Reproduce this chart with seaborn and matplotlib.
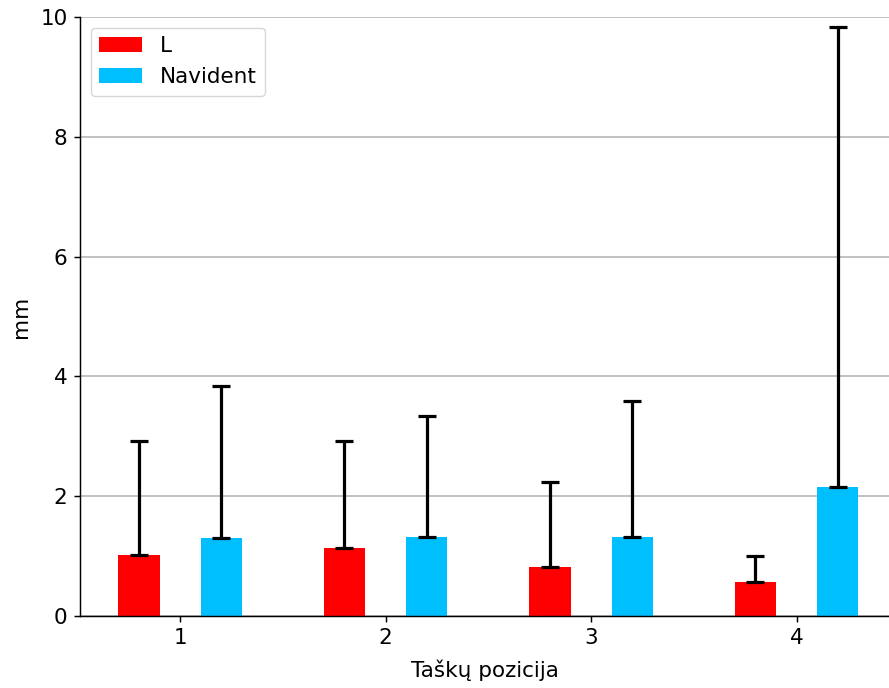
import numpy as np
import pandas as pd
import matplotlib
matplotlib.use("Agg")
import matplotlib.pyplot as plt
import seaborn as sns

positions = ["1", "2", "3", "4"]
groups = ["L", "Navident"]
l_means = [1.02, 1.14, 0.81, 0.56]
l_upper = [2.92, 2.92, 2.23, 1.00]
nav_means = [1.31, 1.32, 1.32, 2.15]
nav_upper = [3.84, 3.34, 3.59, 9.83]
colors = ["#ff0000", "#00bfff"]

df = pd.DataFrame({
    "pos": positions * 2,
    "grupe": ["L"] * 4 + ["Navident"] * 4,
    "mm": l_means + nav_means,
})

sns.set_style("white", {"text.color": "black", "axes.labelcolor": "black",
                        "xtick.color": "black", "ytick.color": "black"})
plt.rcParams["font.family"] = ["DejaVu Sans"]
plt.rcParams["font.size"] = 15.5

fig = plt.figure(figsize=(8.89, 6.88), dpi=100)
ax = fig.add_axes([0.09, 0.1047, 0.91, 0.8706])

sns.barplot(data=df, x="pos", y="mm", hue="grupe", order=positions,
            hue_order=groups, palette=colors, width=0.8, gap=0.5,
            saturation=1, errorbar=None, ax=ax, zorder=2, linewidth=0)

# upper-only error bars
x = np.arange(len(positions))
for off, means, upper in [(-0.2, l_means, l_upper), (0.2, nav_means, nav_upper)]:
    means = np.array(means)
    err = np.array(upper) - means
    ax.errorbar(x + off, means, yerr=[np.zeros_like(err), err], fmt="none",
                ecolor="black", elinewidth=2.3, capsize=6.3, capthick=2.3, zorder=3)

ax.set_ylim(0, 10)
ax.set_xlim(-0.487, 3.45)
ax.set_yticks([0, 2, 4, 6, 8, 10])
ax.yaxis.grid(True, color="#b0b0b0", linewidth=1.1, zorder=0)
ax.set_axisbelow(True)
ax.tick_params(axis="both", which="major", length=4.5, width=1.05, pad=4.5,
               color="black", labelsize=15.5, bottom=True, left=True)
for side in ["top", "right"]:
    ax.spines[side].set_visible(False)
for side in ["left", "bottom"]:
    ax.spines[side].set_color("black")
    ax.spines[side].set_linewidth(1.05)
ax.set_xlabel("Taškų pozicija", fontsize=15.5, labelpad=8)
ax.set_ylabel("mm", fontsize=15.5, labelpad=7)
ax.legend(loc="upper left", fontsize=15.5, frameon=True, framealpha=0.8,
          edgecolor="#cccccc", fancybox=True)

fig.savefig("out.png", dpi=100)
